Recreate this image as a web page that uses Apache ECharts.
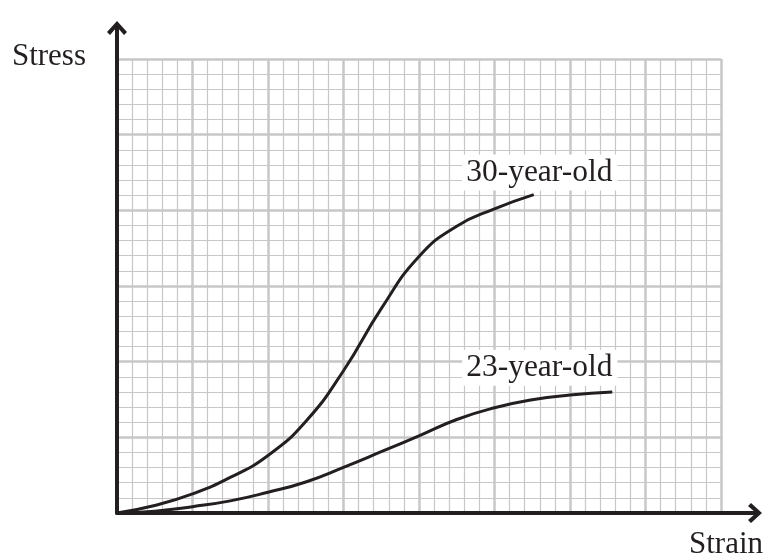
<!DOCTYPE html>
<html>
<head>
<meta charset="utf-8">
<script src="https://cdn.jsdelivr.net/npm/echarts@6/dist/echarts.min.js"></script>
<style>
html,body{margin:0;padding:0;background:#fff;}
#chart{width:766px;height:554px;}
</style>
</head>
<body>
<div id="chart"></div>
<script>
// Values in grid units (small squares)
const strain30 = [0, 2.5, 5, 7.5, 10, 12.5, 15, 17.5, 20, 22.5, 25, 27.6];
const stress30 = [0, 0.5, 1.26, 2.35, 3.8, 6.05, 9.4, 13.5, 16.95, 18.95, 20.1, 21.04];
const strain23 = [0, 2.5, 5, 7.5, 10, 12.5, 15, 17.5, 20, 22.5, 25, 27.5, 30, 32.8];
const stress23 = [0, 0.12, 0.42, 0.8, 1.37, 2.05, 3.02, 4.05, 5.1, 6.18, 6.95, 7.48, 7.79, 8.0];
const seriesNames = ['30-year-old', '23-year-old'];
const labelPos = [[28.0, 22.5], [28.0, 9.6]];
const axisTitles = {x: 'Strain', y: 'Stress'};

const ink = '#231f20';
const gridGray = '#c7c7c9';
const serif = '"Liberation Serif", "DejaVu Serif", serif';

function zip(a, b) { return a.map((v, i) => [v, b[i]]); }

const chart = echarts.init(document.getElementById('chart'), null, {renderer: 'canvas'});

const chevron = 'path://M10,0 L20,11 L17,14 L10,6 L3,14 L0,11 Z';

const mkLabelPoint = (name, pos) => ({
  symbol: 'circle',
  symbolSize: 0,
  silent: true,
  animation: false,
  data: [{coord: pos, value: name}],
  label: {
    show: true,
    position: 'inside',
    formatter: name,
    fontFamily: serif,
    fontSize: 31.5,
    color: ink,
    backgroundColor: '#ffffff',
    padding: [2, 5, 2, 4]
  }
});

chart.setOption({
  animation: false,
  backgroundColor: '#ffffff',
  grid: [
    {left: 117, right: 45, top: 59, bottom: 41},
    {left: 117, right: 11, top: 28, bottom: 41}
  ],
  xAxis: [
    {
      type: 'value', gridIndex: 0, min: 0, max: 40, interval: 5,
      axisLine: {show: false}, axisTick: {show: false}, axisLabel: {show: false},
      splitLine: {show: true, lineStyle: {color: gridGray, width: 2.5}},
      minorTick: {show: false, splitNumber: 5},
      minorSplitLine: {show: true, lineStyle: {color: gridGray, width: 1.2}}
    },
    {
      type: 'value', gridIndex: 1, min: 0, max: 1,
      axisLine: {show: true, symbol: ['none', chevron], symbolSize: [20, 15],
        lineStyle: {color: ink, width: 4}},
      axisTick: {show: false}, axisLabel: {show: false}, splitLine: {show: false}
    }
  ],
  yAxis: [
    {
      type: 'value', gridIndex: 0, min: 0, max: 30, interval: 5,
      axisLine: {show: false}, axisTick: {show: false}, axisLabel: {show: false},
      splitLine: {show: true, lineStyle: {color: gridGray, width: 2.5}},
      minorTick: {show: false, splitNumber: 5},
      minorSplitLine: {show: true, lineStyle: {color: gridGray, width: 1.2}}
    },
    {
      type: 'value', gridIndex: 1, min: 0, max: 1,
      axisLine: {show: true, symbol: ['none', chevron], symbolSize: [20, 15],
        lineStyle: {color: ink, width: 4}},
      axisTick: {show: false}, axisLabel: {show: false}, splitLine: {show: false}
    }
  ],
  series: [
    {
      name: seriesNames[0], type: 'line', xAxisIndex: 0, yAxisIndex: 0,
      data: zip(strain30, stress30), smooth: 0.5,
      showSymbol: false, symbol: 'none',
      lineStyle: {color: ink, width: 3}, z: 3,
      markPoint: mkLabelPoint(seriesNames[0], labelPos[0])
    },
    {
      name: seriesNames[1], type: 'line', xAxisIndex: 0, yAxisIndex: 0,
      data: zip(strain23, stress23), smooth: 0.5,
      showSymbol: false, symbol: 'none',
      lineStyle: {color: ink, width: 3}, z: 3,
      markPoint: mkLabelPoint(seriesNames[1], labelPos[1])
    }
  ],
  graphic: [
    {type: 'text', z: 10, style: {x: 86, y: 56.5, text: axisTitles.y, fill: ink,
      font: '31px ' + serif, textAlign: 'right', textVerticalAlign: 'middle'}},
    {type: 'text', z: 10, style: {x: 763, y: 544.5, text: axisTitles.x, fill: ink,
      font: '31px ' + serif, textAlign: 'right', textVerticalAlign: 'middle'}}
  ]
});
</script>
</body>
</html>
